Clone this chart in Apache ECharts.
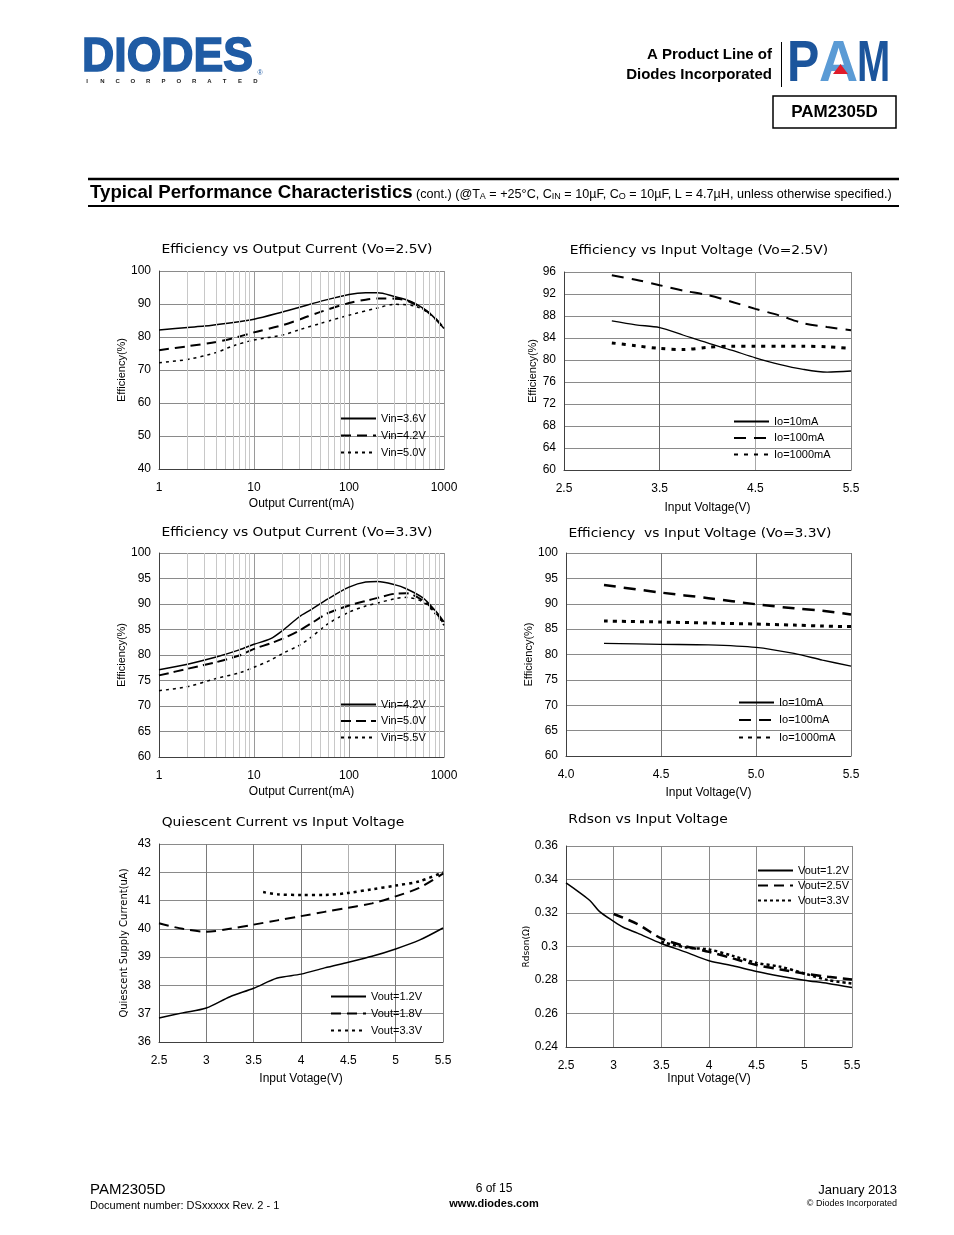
<!DOCTYPE html>
<html><head><meta charset="utf-8">
<script src="https://cdn.jsdelivr.net/npm/echarts@6/dist/echarts.min.js"></script>
<style>html,body{margin:0;padding:0;background:#fff}#c{width:954px;height:1235px}</style>
</head><body><div id="c"></div>
<script>
// ---------- DATA ----------
const logMinorTicks = [2,3,4,5,6,7,8,9,20,30,40,50,60,70,80,90,200,300,400,500,600,700,800,900];

// Chart 1: Efficiency vs Output Current (Vo=2.5V)
const c1X36 = [1,2,3,5,10,20,30,50,100,150,200,300,400,500,700,1000];
const c1Vin36 = [82.1,82.9,83.3,84.1,85.4,87.6,89.0,90.8,92.9,93.4,93.4,92.3,91.3,90.1,87.3,82.6];
const c1X42 = [1,2,4,6,10,20,30,50,100,150,200,300,400,600,800,1000];
const c1Vin42 = [76.0,77.2,78.5,79.6,81.4,83.6,85.3,87.6,90.3,91.3,91.7,91.6,91.1,88.6,85.8,82.6];
const c1X50 = [1,2,4,6,10,20,30,50,100,200,300,500,700,1000];
const c1Vin50 = [72.2,73.2,75.3,77.3,79.1,80.6,82.2,84.1,86.6,88.8,89.9,89.3,87.1,82.6];

// Chart 2: Efficiency vs Input Voltage (Vo=2.5V)
const c2X = [3.0,3.25,3.5,3.75,4.0,4.25,4.5,4.75,5.0,5.25,5.5];
const c2Io10 = [87.1,86.4,85.9,84.5,83.1,81.8,80.4,79.2,78.3,77.8,78.0];
const c2Io100 = [95.4,94.6,93.6,92.6,91.8,90.6,89.3,88.1,86.7,86.0,85.4];
const c2Io1000 = [83.1,82.6,82.1,81.9,82.3,82.5,82.5,82.5,82.5,82.4,82.1];

// Chart 3: Efficiency vs Output Current (Vo=3.3V)
const c3X = [1,2,4,7,10,15,20,30,40,60,100,150,200,300,400,600,800,1000];
const c3Vin42 = [77.1,78.2,79.6,81.0,82.1,83.2,84.8,87.5,88.9,91.0,93.3,94.3,94.4,93.8,93.0,91.2,88.8,86.5];
const c3Vin50 = [76.0,77.3,78.6,79.9,81.2,82.3,83.2,84.8,86.2,88.2,89.7,90.6,91.2,92.0,92.1,90.7,88.6,86.1];
const c3Vin55 = [73.0,73.8,75.4,76.5,77.6,79.0,80.3,81.9,83.5,86.1,88.4,89.6,90.2,91.0,91.3,90.4,88.2,85.8];

// Chart 4: Efficiency vs Input Voltage (Vo=3.3V)
const c4X = [4.2,4.5,4.75,5.0,5.2,5.35,5.5];
const c4Io10 = [82.2,82.0,81.9,81.4,80.2,78.9,77.7];
const c4Io100 = [93.7,92.2,91.1,89.9,89.1,88.6,87.9];
const c4Io1000 = [86.6,86.4,86.2,86.0,85.8,85.6,85.5];

// Chart 5: Quiescent Current vs Input Voltage
const c5X = [2.5,2.75,3.0,3.25,3.5,3.75,4.0,4.25,4.5,4.75,5.0,5.25,5.5];
const c5V12 = [36.85,37.03,37.2,37.6,37.9,38.26,38.4,38.62,38.82,39.03,39.29,39.6,40.03];
const c5V18 = [40.2,40.0,39.9,40.0,40.15,40.3,40.45,40.6,40.75,40.9,41.15,41.45,41.95];
const c5X33 = [3.6,3.75,4.0,4.25,4.5,4.75,5.0,5.25,5.5];
const c5V33 = [41.3,41.22,41.2,41.2,41.27,41.4,41.53,41.68,42.0];

// Chart 6: Rdson vs Input Voltage
const c6X12 = [2.5,2.6,2.75,2.85,3.0,3.1,3.25,3.5,3.75,4.0,4.25,4.5,4.75,5.0,5.25,5.5];
const c6V12 = [0.3380,0.3340,0.3275,0.3210,0.3150,0.3115,0.3080,0.3018,0.2968,0.2915,0.2885,0.2851,0.2823,0.2799,0.2779,0.2755];
const c6X25 = [3.0,3.25,3.5,3.75,4.0,4.25,4.5,4.75,5.0,5.25,5.5];
const c6V25 = [0.3194,0.3134,0.3048,0.3002,0.2968,0.2929,0.2889,0.2863,0.2839,0.2819,0.2803];
const c6X33 = [3.5,3.75,4.0,4.25,4.5,4.75,5.0,5.25,5.5];
const c6V33 = [0.3028,0.2995,0.2982,0.2944,0.2902,0.2879,0.2839,0.2799,0.2779];

const legendText = {
  c1a:'Vin=3.6V', c1b:'Vin=4.2V', c1c:'Vin=5.0V',
  c2a:'Io=10mA', c2b:'Io=100mA', c2c:'Io=1000mA',
  c3a:'Vin=4.2V', c3b:'Vin=5.0V', c3c:'Vin=5.5V',
  c4a:'Io=10mA', c4b:'Io=100mA', c4c:'Io=1000mA',
  c5a:'Vout=1.2V', c5b:'Vout=1.8V', c5c:'Vout=3.3V',
  c6a:'Vout=1.2V', c6b:'Vout=2.5V', c6c:'Vout=3.3V'
};

// ---------- BUILD ----------
const NARROW = "'Liberation Sans Narrow','Liberation Sans',Arial,sans-serif";
const SANS = "'Liberation Sans',Arial,sans-serif";
const WIDE = "'DejaVu Sans',sans-serif";
const zip = (xs, ys) => xs.map((x, i) => [x, ys[i]]);

function line(name, idx, xs, ys, w, dash) {
  return {type:'line', name, xAxisIndex:idx, yAxisIndex:idx, data:zip(xs, ys),
    symbol:'none', showSymbol:false, smooth:0.3, silent:true, animation:false, z:3,
    lineStyle:{color:'#000', width:w, type:dash}, itemStyle:{color:'#000'}};
}
function minorGrid(idx) {
  return {type:'line', name:'minor'+idx, xAxisIndex:idx, yAxisIndex:idx, data:[], silent:true, animation:false, z:1,
    markLine:{silent:true, symbol:'none', animation:false, label:{show:false},
      lineStyle:{color:'#c8c8c8', type:'solid', width:1},
      data: logMinorTicks.map(v => ({xAxis:v}))}};
}
const labelStyle = {color:'#000', fontFamily:NARROW, fontSize:12};
function yAxis(idx, min, max, interval, name, gap, nameFont, nameSize, fmt) {
  return {type:'value', gridIndex:idx, min, max, interval,
    name, nameLocation:'middle', nameGap:gap, nameRotate:90,
    nameTextStyle:{color:'#000', fontFamily:nameFont, fontSize:nameSize},
    axisLine:{show:true, lineStyle:{color:'#404040', width:1}},
    axisTick:{show:false},
    axisLabel:Object.assign({margin:8, formatter:fmt}, labelStyle),
    splitLine:{show:true, lineStyle:{color:'#8a8a8a', width:1}}};
}
function xLog(idx, name, gap) {
  return {type:'log', logBase:10, gridIndex:idx, min:1, max:1000,
    name, nameLocation:'middle', nameGap:gap,
    nameTextStyle:{color:'#000', fontFamily:NARROW, fontSize:12},
    axisLine:{show:true, lineStyle:{color:'#404040', width:1}},
    axisTick:{show:false},
    axisLabel:Object.assign({margin:13, formatter: v => String(Math.round(v))}, labelStyle),
    splitLine:{show:true, lineStyle:{color:'#9a9a9a', width:1}}};
}
function xVal(idx, min, max, interval, name, gap, colors, fmt, custom) {
  const ax = {type:'value', gridIndex:idx, min, max,
    name, nameLocation:'middle', nameGap:gap,
    nameTextStyle:{color:'#000', fontFamily:NARROW, fontSize:12},
    axisLine:{show:true, lineStyle:{color:'#404040', width:1}},
    axisTick:{show:false},
    axisLabel:Object.assign({margin:13, formatter:fmt}, labelStyle),
    splitLine:{show:true, lineStyle:{color:colors, width:1}}};
  if (custom) { ax.axisTick.customValues = custom; ax.axisLabel.customValues = custom; }
  else ax.interval = interval;
  return ax;
}
function legend(ids, left, top, gap) {
  return {orient:'vertical', left, top, padding:0, itemWidth:35, itemHeight:8, itemGap:gap,
    selectedMode:false, data:ids, formatter: n => legendText[n], z:10,
    itemStyle:{color:'rgba(0,0,0,0)', borderColor:'rgba(0,0,0,0)', borderWidth:0, opacity:0},
    textStyle:{color:'#000', fontFamily:NARROW, fontSize:11, lineHeight:13}};
}

const c2XTicks = [2.5,3.5,4.5,5.5];

const option = {
  animation:false,
  backgroundColor:'#fff',
  grid:[
    {left:159, top:271, width:285, height:198},
    {left:564, top:272, width:287, height:198},
    {left:159, top:553, width:285, height:204},
    {left:566, top:553, width:285, height:203},
    {left:159, top:844, width:284, height:198},
    {left:566, top:846, width:286, height:201}
  ],
  xAxis:[
    xLog(0, 'Output Current(mA)', 29),
    xVal(1, 2.5, 5.5, null, 'Input Voltage(V)', 32, ['#666','#666','#a8a8a8','#888'], v => v.toFixed(1), c2XTicks),
    xLog(2, 'Output Current(mA)', 29),
    xVal(3, 4.0, 5.5, 0.5, 'Input Voltage(V)', 31, ['#777'], v => v.toFixed(1)),
    xVal(4, 2.5, 5.5, 0.5, 'Input Votage(V)', 31, ['#7a7a7a','#7a7a7a','#7a7a7a','#7a7a7a','#b0b0b0','#7a7a7a','#7a7a7a']),
    xVal(5, 2.5, 5.5, 0.5, 'Input Votage(V)', 26, ['#8a8a8a'])
  ],
  yAxis:[
    yAxis(0, 40, 100, 10, 'Efficiency(%)', 24, SANS, 11),
    yAxis(1, 60, 96, 4, 'Efficiency(%)', 25, SANS, 11),
    yAxis(2, 60, 100, 5, 'Efficiency(%)', 26, SANS, 11),
    yAxis(3, 60, 100, 5, 'Efficiency(%)', 30, SANS, 11),
    yAxis(4, 36, 43, 1, 'Quiescent Supply Current(uA)', 30, WIDE, 10),
    yAxis(5, 0.24, 0.36, 0.02, 'Rdson(Ω)', 33, WIDE, 9)
  ],
  legend:[
    legend(['c1a','c1b','c1c'], 340, 412, 4),
    legend(['c2a','c2b','c2c'], 733, 415, 3.5),
    legend(['c3a','c3b','c3c'], 340, 698, 3.5),
    legend(['c4a','c4b','c4c'], 738, 696, 4.5),
    legend(['c5a','c5b','c5c'], 330, 990, 4),
    legend(['c6a','c6b','c6c'], 757, 864, 2)
  ],
  series:[
    minorGrid(0), minorGrid(2),
    line('c1a', 0, c1X36, c1Vin36, 1.5, 'solid'),
    line('c1b', 0, c1X42, c1Vin42, 2, [10,6]),
    line('c1c', 0, c1X50, c1Vin50, 1.5, [3,4]),
    line('c2a', 1, c2X, c2Io10, 1.3, 'solid'),
    line('c2b', 1, c2X, c2Io100, 2, [12,8]),
    line('c2c', 1, c2X, c2Io1000, 3, [4,6]),
    line('c3a', 2, c3X, c3Vin42, 1.5, 'solid'),
    line('c3b', 2, c3X, c3Vin50, 2, [10,5]),
    line('c3c', 2, c3X, c3Vin55, 1.5, [3,4]),
    line('c4a', 3, c4X, c4Io10, 1.3, 'solid'),
    line('c4b', 3, c4X, c4Io100, 2.5, [12,8]),
    line('c4c', 3, c4X, c4Io1000, 3, [4,5]),
    line('c5a', 4, c5X, c5V12, 1.5, 'solid'),
    line('c5b', 4, c5X, c5V18, 2, [10,6]),
    line('c5c', 4, c5X33, c5V33, 2.5, [3,4]),
    line('c6a', 5, c6X12, c6V12, 1.5, 'solid'),
    line('c6b', 5, c6X25, c6V25, 2.5, [10,6]),
    line('c6c', 5, c6X33, c6V33, 2.5, [3,3])
  ],
  graphic:[]
};

// ---------- PAGE DECORATION (text) ----------
const G = option.graphic;
function txt(text, x, y, font, size, weight, align, color, extra, styleExtra) {
  G.push(Object.assign({type:'text', x, y, silent:true,
    style:Object.assign({text, fill:color||'#000', font:(weight||'normal')+' '+size+'px '+font, textAlign:align||'left', textVerticalAlign:'middle'}, styleExtra||{})}, extra||{}));
}
// chart titles
const TS = {scaleX:1.155};
txt('Efficiency vs Output Current (Vo=2.5V)', 297, 250, WIDE, 12, 'normal', 'center', '#000', TS);
txt('Efficiency vs Input Voltage (Vo=2.5V)', 699, 251, WIDE, 12, 'normal', 'center', '#000', TS);
txt('Efficiency vs Output Current (Vo=3.3V)', 297, 533, WIDE, 12, 'normal', 'center', '#000', TS);
txt('Efficiency  vs Input Voltage (Vo=3.3V)', 700, 534, WIDE, 12, 'normal', 'center', '#000', TS);
txt('Quiescent Current vs Input Voltage', 283, 823, WIDE, 12, 'normal', 'center', '#000', TS);
txt('Rdson vs Input Voltage', 648, 820, WIDE, 12, 'normal', 'center', '#000', TS);

// DIODES logo
txt('DIODES', 82, 58, SANS, 48, 'bold', 'left', '#1f5ba4', {scaleX:0.93}, {stroke:'#1f5ba4', lineWidth:1.6});
'INCORPORATED'.split('').forEach((ch, i) => txt(ch, 87 + i * 15.3, 81, SANS, 6, 'bold', 'center', '#222'));
txt('®', 260, 73, SANS, 7, 'normal', 'center', '#1f5ba4');

// right header
txt('A Product Line of', 772, 55, SANS, 15, 'bold', 'right');
txt('Diodes Incorporated', 772, 75, SANS, 15, 'bold', 'right');
G.push({type:'line', silent:true, shape:{x1:781.5, y1:42, x2:781.5, y2:87}, style:{stroke:'#000', lineWidth:1}});
txt('P', 787, 65, SANS, 57, 'bold', 'left', '#1c559c', {scaleX:0.85});
txt('A', 819, 65, SANS, 57, 'bold', 'left', '#5b9bd5', {scaleX:0.95});
txt('M', 857, 65, SANS, 57, 'bold', 'left', '#1c559c', {scaleX:0.7});
G.push({type:'polygon', silent:true, shape:{points:[[840.5,64],[833,74],[848,74]]}, style:{fill:'#e01b2a'}});
G.push({type:'rect', silent:true, shape:{x:773, y:96, width:123, height:32}, style:{fill:'none', stroke:'#000', lineWidth:1.5}});
txt('PAM2305D', 834.5, 112, SANS, 17, 'bold', 'center');

// section header
G.push({type:'line', silent:true, shape:{x1:88, y1:179, x2:899, y2:179}, style:{stroke:'#000', lineWidth:2.5}});
G.push({type:'line', silent:true, shape:{x1:88, y1:206, x2:899, y2:206}, style:{stroke:'#000', lineWidth:2}});
G.push({type:'text', x:90, y:193, silent:true, style:{
  text:'{b|Typical Performance Characteristics} {s|(cont.) (@T}{u|A}{s| = +25°C, C}{u|IN}{s| = 10µF, C}{u|O}{s| = 10µF, L = 4.7µH, unless otherwise specified.)}',
  textVerticalAlign:'middle', fill:'#000',
  rich:{
    b:{font:'bold 18.7px '+SANS, fill:'#000'},
    s:{font:'12.6px '+NARROW, fill:'#000', padding:[3,0,0,0]},
    u:{font:'9px '+NARROW, fill:'#000', padding:[7,0,0,0]}
  }}});

// footer
txt('PAM2305D', 90, 1190, NARROW, 15, 'normal', 'left');
txt('Document number: DSxxxxx Rev. 2 - 1', 90, 1206, NARROW, 11, 'normal', 'left');
txt('6 of 15', 494, 1189, NARROW, 12, 'normal', 'center');
txt('www.diodes.com', 494, 1204, SANS, 11, 'bold', 'center');
txt('January 2013', 897, 1190, NARROW, 13, 'normal', 'right');
txt('© Diodes Incorporated', 897, 1204, NARROW, 9, 'normal', 'right');

const chart = echarts.init(document.getElementById('c'), null, {renderer:'canvas'});
chart.setOption(option);
</script>
</body></html>
